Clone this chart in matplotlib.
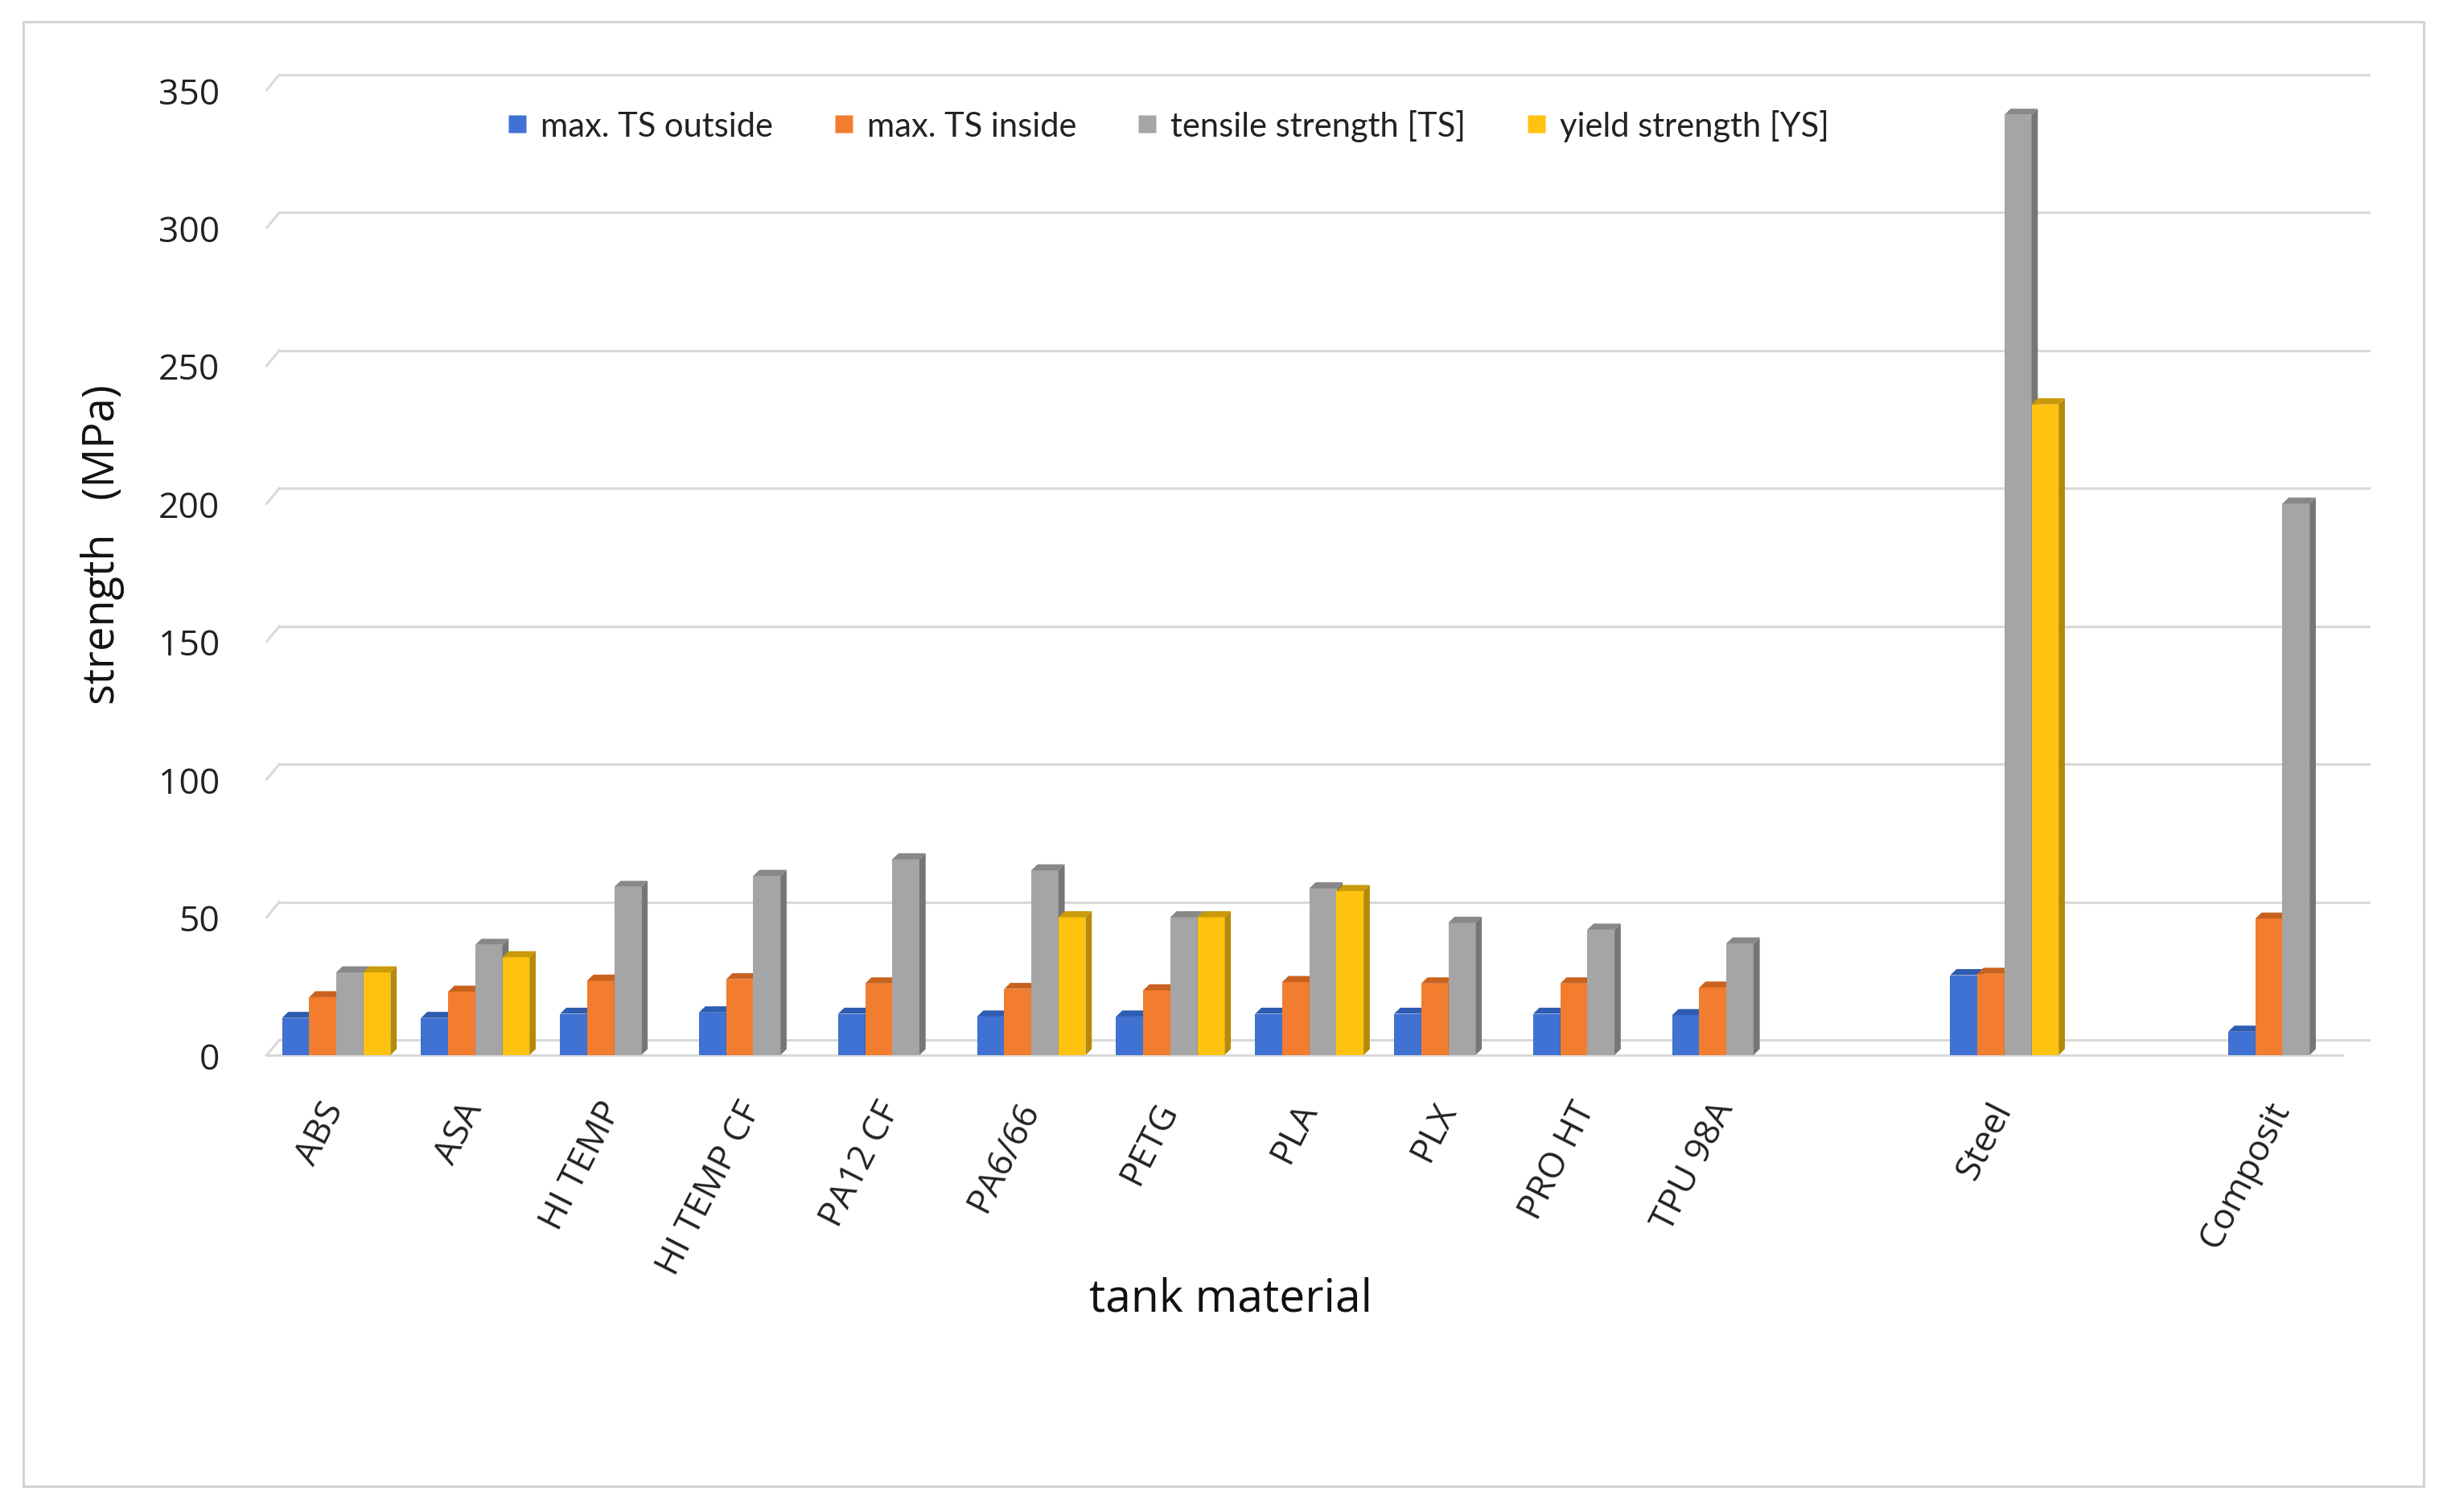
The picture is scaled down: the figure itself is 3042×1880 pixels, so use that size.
import matplotlib
matplotlib.use("Agg")
import matplotlib.pyplot as plt
from matplotlib.patches import Polygon, Rectangle
from matplotlib.lines import Line2D
import numpy as np

plt.rcParams['font.family'] = ['Open Sans', 'DejaVu Sans']

categories = ["ABS", "ASA", "HI TEMP", "HI TEMP CF", "PA12 CF", "PA6/66", "PETG",
              "PLA", "PLX", "PRO HT", "TPU 98A", "", "Steel", "", "Composit"]
series_names = ["max. TS outside", "max. TS inside", "tensile strength [TS]", "yield strength [YS]"]
ts_outside = [13.5, 13.5, 15, 15.5, 15, 14, 14, 15, 15, 15, 14.5, None, 29, None, 8.5]
ts_inside = [21, 23, 27, 27.5, 26, 24, 23.5, 26.5, 26, 26, 24.5, None, 29.5, None, 49.5]
tensile = [30, 40, 61, 65, 71, 67, 50, 60.5, 48, 45.5, 40.5, None, 341, None, 200]
yield_s = [30, 35.5, None, None, None, 50, 50, 59.5, None, None, None, None, 236, None, None]
y_ticks = [0, 50, 100, 150, 200, 250, 300, 350]

face_colors = ["#3F72D3", "#F27D2E", "#A5A5A5", "#FFC20E"]
side_colors = ["#2A4F96", "#B8561A", "#767676", "#B58A06"]
top_colors = ["#2E5CB0", "#C9621F", "#888888", "#C99A0A"]

fig = plt.figure(figsize=(15.21, 9.405), dpi=200)
fig.patches.append(Rectangle((0.0095, 0.017), 0.981, 0.968, transform=fig.transFigure,
                             fill=False, edgecolor="#D0D0D0", lw=1.0))
ax = fig.add_axes([0.109, 0.302, 0.855, 0.638])

x = np.arange(len(categories))
w = 0.195
dx, dy = 0.045, 2.2
gdy = 5.5
series = [ts_outside, ts_inside, tensile, yield_s]

for j, vals in enumerate(series):
    for i, v in enumerate(vals):
        if v is None:
            continue
        left = x[i] + (j - 2) * w
        ax.bar(left, v, width=w, align="edge", color=face_colors[j], edgecolor="none", zorder=3)
        side = Polygon([(left + w, 0), (left + w + dx, dy), (left + w + dx, v + dy), (left + w, v)],
                       closed=True, facecolor=side_colors[j], edgecolor="none", zorder=3)
        top = Polygon([(left, v), (left + dx, v + dy), (left + w + dx, v + dy), (left + w, v)],
                      closed=True, facecolor=top_colors[j], edgecolor="none", zorder=3)
        ax.add_patch(side)
        ax.add_patch(top)

ax.set_xlim(-0.5, 14.55)
ax.set_ylim(0, 350)
ax.set_yticks(y_ticks)
ax.set_yticklabels([str(t) for t in y_ticks])
for t in y_ticks:
    ax.plot([-0.41, 14.62], [t + gdy, t + gdy], color="#D9D9D9", lw=1.1, clip_on=False, zorder=1)
    ax.plot([-0.5, -0.41], [t, t + gdy], color="#D9D9D9", lw=1.1, clip_on=False, zorder=1)
ax.plot([-0.5, 14.43], [0, 0], color="#D9D9D9", lw=1.1, clip_on=False, zorder=1)
ax.set_xticks(x - 0.12)
ax.set_xticklabels(categories, rotation=63, ha="right", rotation_mode="anchor",
                   fontsize=16, color="#222222")
ax.tick_params(axis="x", length=0, pad=18)
ax.tick_params(axis="y", length=0, pad=21, labelsize=16, labelcolor="#222222")
for s in ax.spines.values():
    s.set_visible(False)

fig.text(0.503, 0.141, "tank material", ha="center", va="center", fontsize=20.5, color="#111111")
fig.text(0.042, 0.64, "strength   (MPa)", ha="center", va="center", rotation=90,
         fontsize=19.5, color="#111111")

handles = [Line2D([], [], marker="s", linestyle="none", markersize=8, markerfacecolor=c,
                  markeredgecolor="none") for c in face_colors]
fig.legend(handles, series_names, loc="center", bbox_to_anchor=(0.477, 0.9165), ncol=4,
           frameon=False, handlelength=0.7, handletextpad=0.35, columnspacing=1.75,
           labelcolor="#222222", prop={"family": ["Lato", "DejaVu Sans"], "size": 15})

fig.savefig("out.png", dpi=200)
